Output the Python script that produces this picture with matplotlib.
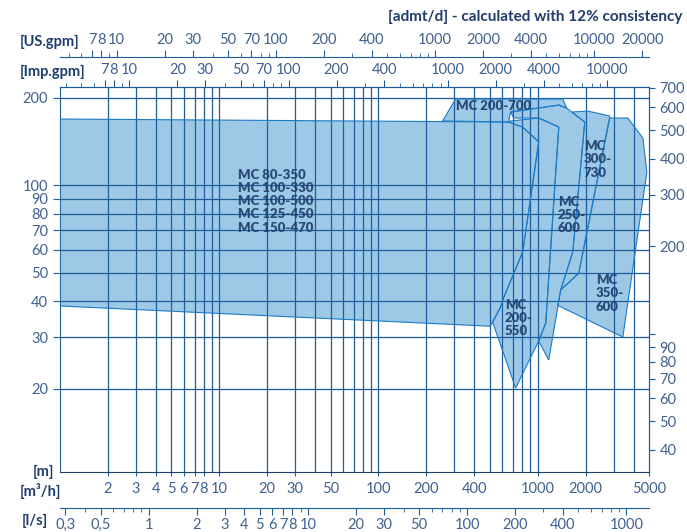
import matplotlib
matplotlib.use("Agg")
from matplotlib import pyplot as plt
from matplotlib.ticker import FixedLocator, NullFormatter

plt.rcParams["font.family"] = ["Lato", "DejaVu Sans"]

# flow [m3/h] and head [m] outlines
main_q = [1, 655, 805, 1015, 805, 610, 585, 505, 1]
main_h = [169, 165, 158.5, 141, 59, 41, 38.2, 32.8, 38.5]

mc200_550_q = [676, 1015, 1356, 1123, 1015, 727, 521, 585, 610, 805, 1015, 805, 655]
mc200_550_h = [166.4, 170.3, 158.6, 33.6, 29.2, 20.1, 33.9, 38.2, 41, 59, 141, 158.5, 165]

mc200_700_q = [253, 305, 1436, 1522, 1356, 676, 655]
mc200_700_h = [166.4, 198, 198, 184.1, 188.7, 178.6, 165]

mc250_600_q = [676, 1356, 1522, 1975, 1660, 1395, 1173, 1015, 1123, 1356, 1015, 707]
mc250_600_h = [178.6, 188.7, 184.1, 165, 59, 43.7, 25.1, 29.2, 33.6, 158.6, 170.3, 170.3]

mc300_730_q = [1636, 2063, 2837, 1811, 1395, 1660, 1975]
mc300_730_h = [178.6, 180, 173, 49.9, 43.7, 59, 165]

mc350_600_q = [2837, 3681, 4576, 4848, 3424, 1336, 1395, 1811]
mc350_600_h = [170.3, 170.3, 145.4, 111.1, 30.1, 38.7, 43.7, 49.9]

areas = [(main_q, main_h), (mc200_550_q, mc200_550_h), (mc200_700_q, mc200_700_h),
         (mc250_600_q, mc250_600_h), (mc300_730_q, mc300_730_h), (mc350_600_q, mc350_600_h)]

labels = ["MC 80-350\nMC 100-330\nMC 100-500\nMC 125-450\nMC 150-470", "MC 200-700",
          "MC\n300-\n730", "MC\n250-\n600", "MC\n200-\n550", "MC\n350-\n600"]
label_q = [13.2, 305, 1946, 1336, 620, 2317]
label_h = [114, 196, 143, 92, 40.8, 49.5]

q_major = [2, 3, 4, 5, 6, 7, 8, 10, 20, 30, 50, 100, 200, 400, 1000, 2000, 5000]
head_ticks = [20, 30, 40, 50, 60, 70, 80, 90, 100, 200]
admt_ticks = [40, 50, 60, 70, 80, 90, 100, 200, 300, 400, 500, 600, 700]
us_major = [7, 8, 10, 20, 30, 50, 70, 100, 200, 400, 1000, 2000, 4000, 10000, 20000]
imp_major = [7, 8, 10, 20, 30, 50, 70, 100, 200, 400, 1000, 2000, 4000, 10000]
ls_major = [0.3, 0.5, 1, 2, 3, 4, 5, 6, 7, 8, 10, 20, 30, 50, 100, 200, 400, 1000]

DARK = "#1e3d6d"
TICK = "#3f6190"
GRID = "#1f5c9e"
FILL = "#9dc9e6"
EDGE = "#1b7bc4"


def all_steps(lo, hi):
    "Every 1..9 x 10^n value between lo and hi."
    out = []
    for p in range(-2, 6):
        for m in range(1, 10):
            v = m * 10 ** p
            if lo <= v <= hi:
                out.append(round(v, 3))
    return out


fig = plt.figure(figsize=(6.87, 5.32), dpi=100)
ax = fig.add_axes([60 / 687, 1 - 472 / 532, 589 / 687, 385 / 532])
ax.set_xscale("log")
ax.set_yscale("log")
ax.set_xlim(1, 5000)
ax.set_ylim(10.35, 217.7)

for q, h in areas:
    ax.fill(q, h, color=FILL, lw=0, zorder=1)
for q, h in areas:
    ax.fill(q, h, facecolor="none", edgecolor=EDGE, lw=0.8, zorder=3)

for v in all_steps(2, 4999):
    ax.axvline(v, color=GRID, lw=0.9, zorder=2)
for v in head_ticks:
    ax.axhline(v, color=GRID, lw=0.9, zorder=2)

for txt, q, h in zip(labels, label_q, label_h):
    ax.text(q, h, txt, color=DARK, fontsize=9.5, fontweight="heavy", va="top",
            linespacing=1.12, zorder=4, alpha=0.9)

for s in ax.spines.values():
    s.set_color(GRID)
ax.spines["bottom"].set_color(DARK)

ax.yaxis.set_major_locator(FixedLocator(head_ticks))
ax.yaxis.set_minor_locator(FixedLocator([]))
ax.set_yticklabels([str(v) for v in head_ticks])
ax.xaxis.set_major_locator(FixedLocator(q_major))
ax.xaxis.set_minor_locator(FixedLocator([]))
ax.set_xticklabels([str(v) for v in q_major])
ax.tick_params(axis="both", colors=GRID, labelcolor=TICK, labelsize=10.5, length=5)
ax.tick_params(axis="x", length=3, pad=4)

# right axis: admt/d
ax2 = ax.twinx()
ax2.set_yscale("log")
ax2.set_ylim(10.35 * 3.236, 217.7 * 3.236)
ax2.yaxis.set_major_locator(FixedLocator(admt_ticks))
ax2.yaxis.set_minor_locator(FixedLocator([]))
ax2.set_yticklabels(["" if v == 100 else str(v) for v in admt_ticks])
ax2.tick_params(axis="y", colors=GRID, labelcolor=TICK, labelsize=10.5, length=4)
for s in ax2.spines.values():
    s.set_visible(False)
ax2.spines["right"].set_visible(True)
ax2.spines["right"].set_color(GRID)


def extra_axis(loc, f, inv, major, fmt):
    sec = ax.secondary_xaxis(loc, functions=(f, inv))
    lo, hi = f(1), f(5000)
    sec.xaxis.set_major_locator(FixedLocator(major))
    sec.xaxis.set_minor_locator(FixedLocator([v for v in all_steps(lo, hi) if v not in major]))
    sec.xaxis.set_minor_formatter(NullFormatter())
    sec.set_xticklabels([fmt(v) for v in major])
    sec.tick_params(which="major", colors=GRID, labelcolor=TICK, labelsize=10.5, length=5, pad=2)
    sec.tick_params(which="minor", colors=GRID, length=3)
    for s in sec.spines.values():
        s.set_color(GRID)
    return sec


fmt_int = lambda v: str(int(v))
extra_axis(1 + 30 / 385, lambda x: x * 4.403, lambda x: x / 4.403, us_major, fmt_int)
extra_axis("top", lambda x: x * 3.666, lambda x: x / 3.666, imp_major, fmt_int)
extra_axis(-36 / 385, lambda x: x / 3.6, lambda x: x * 3.6, ls_major,
           lambda v: str(v).replace(".", ",") if v < 1 else str(int(v)))

fig.text(682 / 687, 1 - 17 / 532, "[admt/d] - calculated with 12% consistency", ha="right",
         va="center", color=DARK, fontsize=11, fontweight="bold")
for txt, x, y in [("[US.gpm]", 20, 42), ("[Imp.gpm]", 20, 72), ("[m]", 33, 472),
                  ("[m³/h]", 20, 491), ("[l/s]", 22, 521)]:
    fig.text(x / 687, 1 - y / 532, txt, ha="left", va="center", color=DARK,
             fontsize=10.5, fontweight="bold")

fig.savefig("out.png", dpi=100)
